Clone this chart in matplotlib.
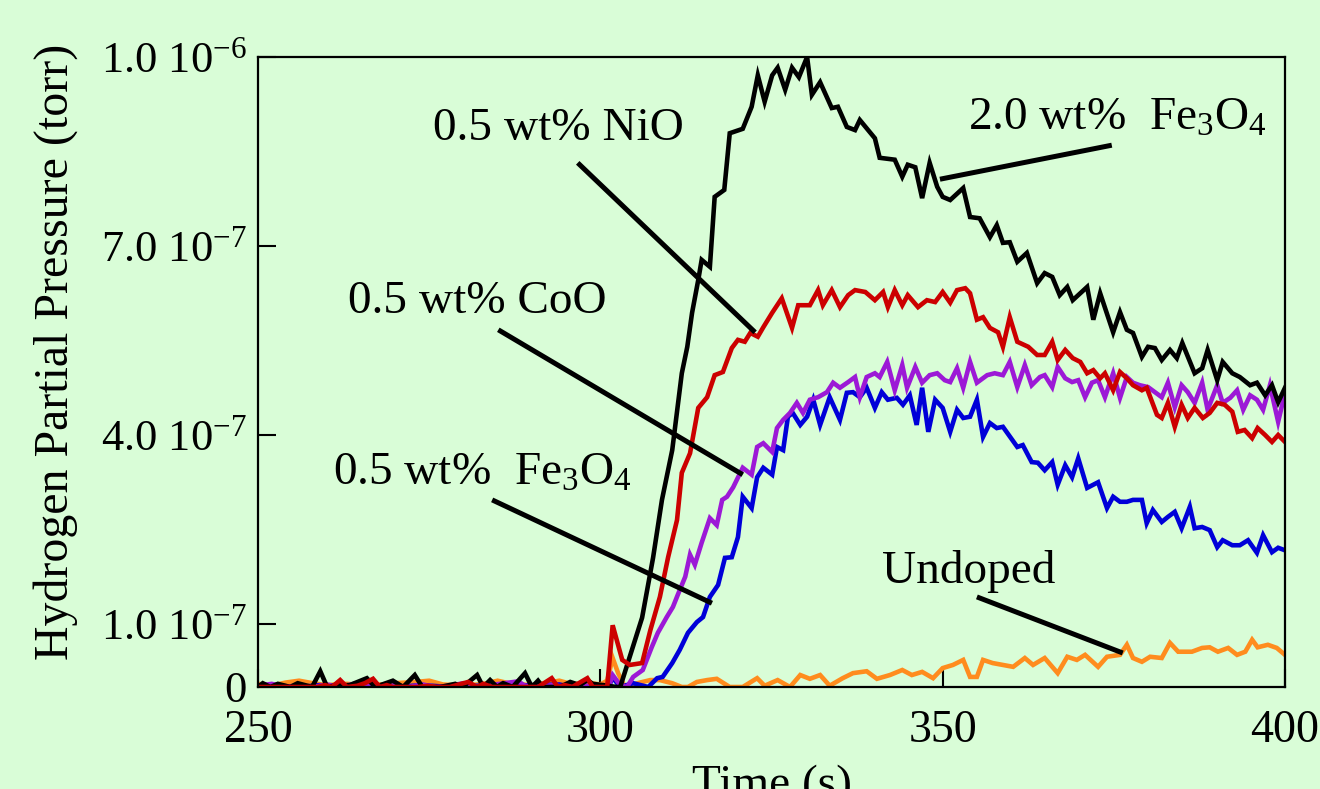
import matplotlib
matplotlib.use("Agg")
import matplotlib.pyplot as plt

plt.rcParams['font.family'] = ['Liberation Serif', 'DejaVu Serif']
plt.rcParams['mathtext.fontset'] = 'custom'
plt.rcParams['mathtext.rm'] = 'Liberation Serif'
plt.rcParams['mathtext.it'] = 'Liberation Serif'
plt.rcParams['mathtext.default'] = 'regular'

UNIT = 1e-7  # values below are in units of 1e-7 torr

# (time s, pressure 1e-7 torr)
fe3o4_20 = [(250.0, 0.0), (250.7, 0.06), (251.8, 0), (252.9, 0.05), (254.7, 0), (255.8, 0.06),
            (257.9, 0), (259.1, 0.25), (260.1, 0), (261.5, 0.03), (263.4, 0.03), (265.9, 0.14),
            (267.1, 0), (269.7, 0.10), (271.2, 0), (272.9, 0.19), (274.0, 0), (276.6, 0),
            (278.8, 0.05), (279.9, 0), (282.0, 0.19), (282.9, 0), (283.9, 0.11), (284.9, 0),
            (285.8, 0.06), (287.2, 0), (289.0, 0.22), (290.0, 0), (290.9, 0.10), (291.6, 0),
            (294.1, 0), (295.6, 0.08), (297.0, 0.03), (298.1, 0.11), (298.9, 0.05), (300.4, 0.03),
            (302.4, 0), (302.9, 0.0), (304.5, 0.55), (306.1, 1.10), (307.7, 2.05), (309.0, 2.97),
            (310.5, 3.76), (311.9, 4.98), (312.7, 5.40), (313.4, 5.94), (314.3, 6.46), (314.8, 6.78),
            (316.0, 6.67), (316.7, 7.78), (318.1, 7.89), (318.9, 8.79), (320.8, 8.86), (322.1, 9.21),
            (323.0, 9.71), (324.0, 9.29), (325.1, 9.71), (325.9, 9.83), (327.0, 9.48), (328.0, 9.83),
            (329.0, 9.68), (330.2, 10.0), (330.9, 9.40), (332.1, 9.60), (333.8, 9.19), (334.7, 9.21),
            (336.0, 8.89), (337.2, 8.84), (337.9, 9.0), (340.1, 8.71), (340.8, 8.40), (343.0, 8.37),
            (344.1, 8.10), (344.9, 8.29), (346.0, 8.25), (347.0, 7.76), (348.1, 8.32), (349.2, 7.94),
            (350.0, 7.78), (351.1, 7.73), (353.0, 7.92), (354.0, 7.46), (355.4, 7.44), (356.9, 7.14),
            (357.9, 7.33), (358.8, 7.05), (359.8, 7.06), (360.9, 6.75), (362.3, 6.89), (363.8, 6.41),
            (364.9, 6.57), (366.0, 6.51), (367.1, 6.22), (368.2, 6.35), (369.0, 6.14), (371.1, 6.35),
            (372.0, 5.83), (373.0, 6.25), (374.9, 5.63), (375.9, 5.95), (376.9, 5.67), (377.8, 5.62),
            (379.1, 5.24), (380.0, 5.40), (381.0, 5.38), (382.0, 5.19), (383.2, 5.35), (384.2, 5.22),
            (385.0, 5.46), (386.8, 4.98), (387.9, 5.06), (388.7, 5.35), (390.1, 4.87), (390.9, 5.16),
            (392.3, 4.98), (393.4, 4.92), (394.9, 4.79), (395.9, 4.83), (397.1, 4.63), (398.1, 4.79),
            (399.0, 4.52), (400.0, 4.75)]

nio_05 = [(250.0, 0), (251.8, 0), (254.2, 0), (256.1, 0), (258.6, 0), (259.8, 0.03), (260.8, 0),
          (262.0, 0.11), (263.0, 0), (264.5, 0.02), (265.6, 0.06), (266.8, 0.13), (267.8, 0),
          (268.8, 0.03), (269.7, 0), (271.8, 0), (273.4, 0), (274.8, 0.02), (276.1, 0), (278.0, 0),
          (280.7, 0.08), (282.0, 0), (282.9, 0.05), (284.2, 0), (285.8, 0), (287.8, 0), (289.7, 0),
          (290.9, 0), (292.9, 0.14), (293.8, 0), (294.8, 0.03), (295.9, 0), (298.1, 0.14), (298.9, 0),
          (300.4, 0), (301.0, 0), (301.8, 0.98), (303.2, 0.43), (304.3, 0.35), (306.1, 0.38),
          (307.3, 0.90), (308.7, 1.43), (309.9, 2.06), (311.2, 2.65), (311.9, 3.40), (313.1, 3.71),
          (314.3, 4.43), (315.6, 4.60), (316.7, 4.95), (317.9, 5.00), (319.2, 5.38), (320.1, 5.51),
          (321.1, 5.48), (321.9, 5.62), (323.0, 5.56), (323.8, 5.71), (325.1, 5.94), (326.5, 6.17),
          (328.0, 5.70), (328.9, 6.06), (330.6, 6.06), (331.8, 6.30), (332.5, 6.06), (333.8, 6.30),
          (335.0, 6.03), (336.2, 6.22), (337.2, 6.30), (338.7, 6.27), (340.1, 6.14), (341.3, 6.27),
          (342.0, 6.03), (343.0, 6.30), (344.1, 6.06), (344.9, 6.22), (346.4, 6.03), (347.7, 6.14),
          (348.9, 6.11), (350.0, 6.27), (351.1, 6.10), (352.1, 6.30), (353.3, 6.33), (354.0, 6.25),
          (355.0, 5.83), (355.9, 5.87), (356.9, 5.70), (358.1, 5.63), (358.8, 5.40), (359.8, 5.87),
          (360.9, 5.48), (362.5, 5.40), (363.8, 5.27), (364.9, 5.27), (366.0, 5.48), (366.8, 5.19),
          (367.9, 5.35), (369.0, 5.22), (370.1, 5.16), (371.1, 4.98), (372.0, 5.03), (373.0, 4.90),
          (373.7, 4.98), (374.9, 4.71), (375.9, 5.0), (376.9, 4.90), (377.8, 4.79), (379.1, 4.71),
          (379.8, 4.75), (381.3, 4.32), (382.0, 4.27), (382.9, 4.51), (383.9, 4.13), (384.9, 4.48),
          (385.8, 4.27), (386.8, 4.43), (388.0, 4.27), (389.0, 4.35), (390.1, 4.51), (391.2, 4.48),
          (392.3, 4.37), (393.1, 4.05), (394.1, 4.08), (395.2, 3.95), (396.0, 4.11), (397.1, 4.0),
          (398.1, 3.89), (399.0, 4.0), (400.0, 3.89)]

coo_05 = [(250, 0.02), (252, 0.05), (254, 0.0), (256, 0.03), (258, 0.0), (260, 0.04), (262, 0.0),
          (264, 0.05), (266, 0.02), (268, 0.0), (270, 0.03), (272, 0.0), (274, 0.04), (276, 0.0),
          (278, 0.02), (280, 0.06), (282, 0.0), (284, 0.03), (286, 0.06), (288, 0.09), (289, 0.02),
          (291, 0.0), (293, 0.03), (295, 0.0), (297, 0.04), (299, 0.0), (300.5, 0.03), (301.2, 0.0),
          (301.8, 0.19), (302.9, 0.03), (303.9, 0), (304.8, 0.16), (306.2, 0.27), (307.5, 0.63),
          (308.4, 0.86), (309.7, 1.11), (310.6, 1.27), (311.3, 1.46), (312.4, 1.75), (313.1, 2.10),
          (313.8, 1.94), (314.8, 2.29), (316.0, 2.68), (317.0, 2.57), (317.8, 2.97), (318.5, 3.02),
          (319.4, 3.17), (320.8, 3.48), (322.1, 3.37), (322.9, 3.81), (323.8, 3.87), (325.1, 3.73),
          (325.8, 4.11), (326.7, 4.24), (327.7, 4.35), (328.7, 4.51), (329.6, 4.35), (330.6, 4.56),
          (331.8, 4.60), (333.1, 4.68), (334.0, 4.83), (335.0, 4.75), (336.2, 4.84), (337.2, 4.92),
          (337.9, 4.60), (338.9, 4.92), (340.1, 4.98), (340.8, 4.92), (341.9, 5.16), (343.0, 4.71),
          (344.1, 5.11), (344.8, 4.75), (346.0, 5.08), (347.0, 4.83), (348.1, 4.95), (349.2, 4.98),
          (350.3, 4.87), (351.1, 4.84), (352.1, 5.06), (353.0, 4.75), (354.0, 5.16), (355.0, 4.83),
          (356.5, 4.95), (357.6, 4.98), (358.8, 4.95), (359.8, 5.16), (360.9, 4.76), (362.0, 5.11),
          (363.0, 4.79), (364.2, 4.92), (364.9, 4.95), (366.0, 4.76), (366.8, 5.08), (367.9, 4.90),
          (368.9, 4.84), (369.8, 4.87), (370.8, 4.60), (371.8, 4.83), (372.7, 4.87), (373.7, 4.60),
          (374.9, 4.98), (375.9, 4.59), (376.9, 4.92), (377.8, 4.83), (378.8, 4.79), (380.0, 4.76),
          (381.0, 4.68), (382.0, 4.60), (382.9, 4.83), (383.9, 4.44), (384.9, 4.79), (385.8, 4.68),
          (386.8, 4.51), (387.9, 4.83), (388.7, 4.40), (390.1, 4.79), (390.9, 4.51), (392.0, 4.59),
          (393.0, 4.71), (393.9, 4.40), (394.9, 4.63), (395.9, 4.56), (396.8, 4.40), (397.8, 4.79),
          (399.0, 4.21), (400.0, 4.67)]

fe3o4_05 = [(250, 0.0), (253, 0.02), (256, 0.0), (259, 0.03), (262, 0.0), (266, 0.02), (270, 0.0),
            (274, 0.03), (278, 0.0), (282, 0.02), (286, 0.0), (290, 0.03), (294, 0.04), (296, 0.0),
            (299, 0.02), (301.2, 0.0), (301.8, 0.15), (302.9, 0.0), (304.8, 0.06), (307.0, 0.0),
            (308.3, 0.14), (309.1, 0.16), (310.5, 0.38), (311.6, 0.59), (312.8, 0.86), (314.1, 1.03),
            (315.0, 1.11), (316.0, 1.43), (317.2, 1.62), (318.2, 2.05), (319.2, 2.06), (320.1, 2.38),
            (320.8, 3.02), (322.1, 2.84), (322.9, 3.33), (323.8, 3.48), (325.1, 3.37), (325.8, 3.81),
            (326.7, 3.76), (327.4, 4.29), (328.1, 4.35), (329.2, 4.16), (330.2, 4.29), (331.1, 4.56),
            (332.1, 4.16), (333.5, 4.60), (335.0, 4.24), (336.0, 4.67), (336.9, 4.68), (337.9, 4.60),
            (338.9, 4.75), (340.1, 4.43), (341.1, 4.68), (342.0, 4.56), (343.3, 4.59), (344.2, 4.48),
            (345.2, 4.63), (346.2, 4.16), (347.0, 4.75), (347.9, 4.05), (348.9, 4.56), (350.0, 4.43),
            (351.1, 4.05), (352.1, 4.40), (353.0, 4.27), (354.0, 4.29), (355.0, 4.56), (355.9, 3.97),
            (356.9, 4.19), (357.9, 4.11), (358.8, 4.13), (360.9, 3.81), (361.7, 3.84), (363.0, 3.57),
            (363.9, 3.56), (364.9, 3.44), (366.0, 3.57), (366.8, 3.21), (367.9, 3.52), (368.9, 3.33),
            (369.8, 3.63), (371.1, 3.16), (372.7, 3.25), (374.0, 2.84), (374.9, 3.02), (375.9, 2.94),
            (376.9, 2.94), (377.8, 2.97), (379.1, 2.97), (379.8, 2.60), (380.7, 2.81), (382.0, 2.62),
            (382.9, 2.70), (383.9, 2.78), (384.9, 2.52), (386.1, 2.86), (386.8, 2.52), (387.9, 2.54),
            (389.0, 2.49), (390.1, 2.22), (390.9, 2.33), (392.3, 2.25), (393.4, 2.25), (394.6, 2.33),
            (395.9, 2.13), (396.8, 2.41), (398.1, 2.14), (399.0, 2.21), (400.0, 2.17)]

undoped = [(250, 0.05), (252, 0.02), (254, 0.07), (256, 0.10), (258, 0.06), (260, 0.03), (263, 0.05),
           (266, 0.02), (270, 0.06), (273, 0.08), (275, 0.10), (277, 0.04), (280, 0.02), (283, 0.05),
           (285, 0.10), (287, 0.05), (290, 0.03), (292, 0.06), (294, 0.10), (296, 0.04), (298, 0.07),
           (300, 0.04), (301.0, 0.10), (301.8, 0.46), (302.6, 0.22), (303.6, 0.0), (305.4, 0.06),
           (307.3, 0.11), (308.7, 0.11), (310.5, 0.06), (311.9, 0.0), (312.8, 0.0), (314.1, 0.08),
           (315.6, 0.11), (317.0, 0.13), (318.9, 0.0), (320.8, 0.0), (322.9, 0.14), (324.0, 0.02),
           (325.9, 0.11), (327.7, 0.0), (329.2, 0.19), (330.6, 0.13), (332.1, 0.19), (333.5, 0.02),
           (335.4, 0.14), (336.9, 0.22), (338.9, 0.25), (340.4, 0.13), (342.3, 0.19), (344.1, 0.27),
           (345.5, 0.19), (347.0, 0.24), (348.6, 0.14), (350.0, 0.30), (351.5, 0.35), (353.0, 0.43),
           (354.0, 0.16), (355.0, 0.16), (355.9, 0.43), (357.3, 0.38), (358.8, 0.35), (360.3, 0.32),
           (362.0, 0.46), (363.2, 0.35), (364.9, 0.46), (366.8, 0.22), (368.2, 0.48), (369.6, 0.43),
           (370.8, 0.51), (372.7, 0.32), (374.0, 0.48), (375.9, 0.51), (376.9, 0.67), (377.8, 0.46),
           (379.1, 0.40), (380.3, 0.48), (382.0, 0.46), (383.2, 0.70), (384.4, 0.56), (386.4, 0.56),
           (387.9, 0.62), (389.0, 0.63), (390.2, 0.56), (391.7, 0.62), (393.0, 0.51), (394.2, 0.56),
           (395.2, 0.75), (396.0, 0.63), (397.5, 0.67), (398.8, 0.62), (400.0, 0.51)]

# annotation labels: (text, text position (t, p), leader start, leader end)
labels = [
    ("0.5 wt% NiO", (275.6, 8.68), (296.7, 8.32), (322.6, 5.63)),
    ("2.0 wt%  Fe$_3$O$_4$", (353.7, 8.84), (349.6, 8.06), (374.7, 8.60)),
    ("0.5 wt% CoO", (263.1, 5.94), (285.1, 5.67), (320.8, 3.37)),
    ("0.5 wt%  Fe$_3$O$_4$", (261.0, 3.21), (284.2, 2.97), (316.3, 1.33)),
    ("Undoped", (341.1, 1.65), (355.0, 1.43), (376.3, 0.54)),
]

yticks = [0, 1, 4, 7, 10]
ytick_labels = ["0", "1.0 10$^{-7}$", "4.0 10$^{-7}$", "7.0 10$^{-7}$", "1.0 10$^{-6}$"]
xticks = [250, 300, 350, 400]

BG = '#d9fdd7'
series = [
    (undoped, '#ff8c1e'),
    (fe3o4_05, '#0000d8'),
    (coo_05, '#9c19d6'),
    (fe3o4_20, '#000000'),
    (nio_05, '#cc0000'),
]

fig = plt.figure(figsize=(13.2, 7.89), dpi=100, facecolor=BG)
ax = fig.add_axes([258 / 1320, 1 - 687 / 789, (1285 - 258) / 1320, (687 - 57) / 789])
ax.set_facecolor(BG)

for data, color in series:
    t = [d[0] for d in data]
    p = [d[1] * UNIT for d in data]
    ax.plot(t, p, color=color, lw=3.3, solid_joinstyle='miter')

for text, tp, a, b in labels:
    ax.text(tp[0], tp[1] * UNIT, text, fontsize=34, ha='left', va='baseline')
    ax.plot([a[0], b[0]], [a[1] * UNIT, b[1] * UNIT], color='black', lw=3.6,
            solid_capstyle='butt')

ax.set_xlim(250, 400)
ax.set_ylim(0, 1e-6)
ax.set_xticks(xticks)
ax.set_xticklabels([str(x) for x in xticks])
ax.set_yticks([v * UNIT for v in yticks])
ax.set_yticklabels(ytick_labels)
ax.tick_params(axis='both', direction='in', length=13, width=1.5, top=False, right=False)
ax.tick_params(axis='x', labelsize=33, pad=16)
ax.tick_params(axis='y', labelsize=32, pad=8)
for s in ax.spines.values():
    s.set_linewidth(1.6)

fig.text(56 / 1320, 1 - 352 / 789, "Hydrogen Partial Pressure (torr)", rotation=90,
         ha='center', va='center', fontsize=34.5)
fig.text(772 / 1320, 1 - 797 / 789, "Time (s)", ha='center', va='baseline', fontsize=34)

fig.savefig("out.png", dpi=100, facecolor=BG)
